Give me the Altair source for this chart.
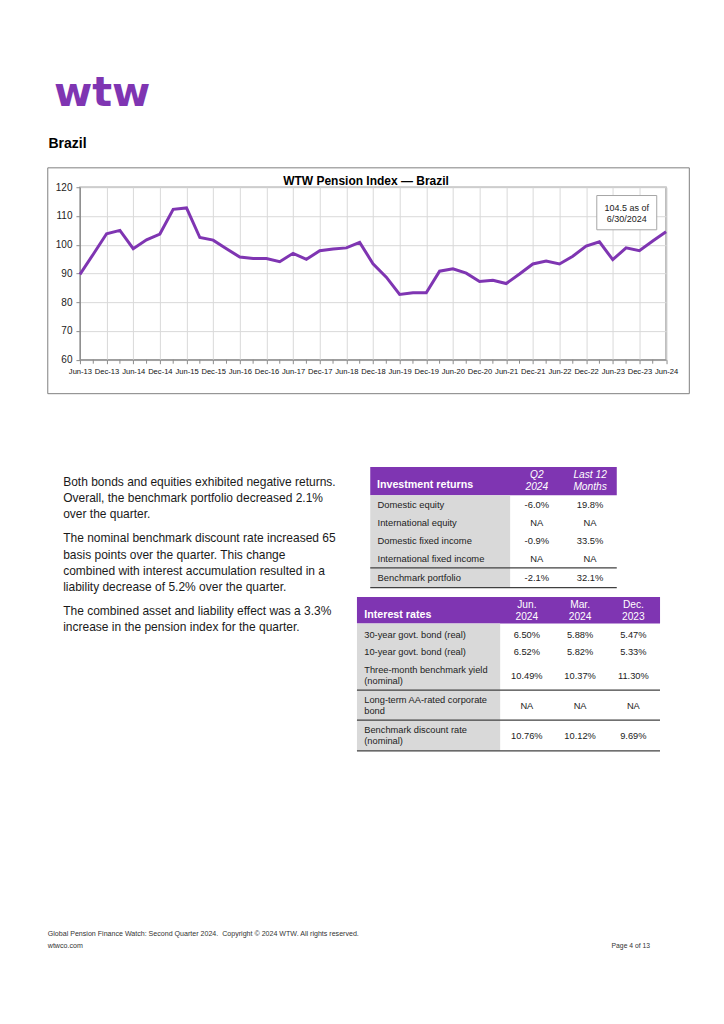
import json
import altair as alt
import pandas as pd

# ---------------- data ----------------
tick_labels = ["Jun-13", "Dec-13", "Jun-14", "Dec-14", "Jun-15", "Dec-15", "Jun-16",
               "Dec-16", "Jun-17", "Dec-17", "Jun-18", "Dec-18", "Jun-19", "Dec-19",
               "Jun-20", "Dec-20", "Jun-21", "Dec-21", "Jun-22", "Dec-22", "Jun-23",
               "Dec-23", "Jun-24"]
index_values = [89.7, 96.7, 103.8, 105.0, 98.6, 101.7, 103.7, 112.3, 112.8, 102.5,
                101.6, 98.6, 95.7, 95.2, 95.2, 94.1, 97.0, 94.9, 97.9, 98.5,
                98.9, 100.8, 93.4, 88.7, 82.7, 83.3, 83.3, 90.8, 91.6, 90.1,
                87.2, 87.6, 86.5, 89.8, 93.3, 94.3, 93.3, 96.0, 99.5, 101.0,
                94.8, 98.9, 97.9, 101.3, 104.5]
y_ticks = [60, 70, 80, 90, 100, 110, 120]

logo_text = "wtw"
section_title = "Brazil"
chart_title = "WTW Pension Index \u2014 Brazil"
note_lines = ["104.5 as of", "6/30/2024"]

paragraphs = [
    ["Both bonds and equities exhibited negative returns.",
     "Overall, the benchmark portfolio decreased 2.1%",
     "over the quarter."],
    ["The nominal benchmark discount rate increased 65",
     "basis points over the quarter. This change",
     "combined with interest accumulation resulted in a",
     "liability decrease of 5.2% over the quarter."],
    ["The combined asset and liability effect was a 3.3%",
     "increase in the pension index for the quarter."],
]

inv_title = "Investment returns"
inv_cols = [["Q2", "2024"], ["Last 12", "Months"]]
inv_rows = ["Domestic equity", "International equity", "Domestic fixed income",
            "International fixed income", "Benchmark portfolio"]
inv_q2 = ["-6.0%", "NA", "-0.9%", "NA", "-2.1%"]
inv_12m = ["19.8%", "NA", "33.5%", "NA", "32.1%"]

ir_title = "Interest rates"
ir_cols = [["Jun.", "2024"], ["Mar.", "2024"], ["Dec.", "2023"]]
ir_rows = [["30-year govt. bond (real)"], ["10-year govt. bond (real)"],
           ["Three-month benchmark yield", "(nominal)"],
           ["Long-term AA-rated corporate", "bond"],
           ["Benchmark discount rate", "(nominal)"]]
ir_jun = ["6.50%", "6.52%", "10.49%", "NA", "10.76%"]
ir_mar = ["5.88%", "5.82%", "10.37%", "NA", "10.12%"]
ir_dec = ["5.47%", "5.33%", "11.30%", "NA", "9.69%"]

footer_left = ["Global Pension Finance Watch: Second Quarter 2024.\u00a0 Copyright \u00a9 2024 WTW. All rights reserved.",
               "wtwco.com"]
footer_right = "Page 4 of 13"

# ---------------- layout ----------------
PURPLE = "#7f35b2"
GRAYCOL = "#d9d9d9"
TXT = "#222222"
FONT = "Liberation Sans, Arial, Helvetica, sans-serif"

OX, OY = 79.5, 186.7      # page position of the plot area origin
W, H = 586.5, 172.6       # plot area size


def xy(rows):
    return pd.DataFrame([{"x": x - OX, "y": y - OY, "t": t} for x, y, t in rows])


def text_layer(rows, **kw):
    base = dict(font=FONT, baseline="middle", color=TXT)
    base.update(kw)
    return alt.Chart(xy(rows)).mark_text(**base).encode(
        x=alt.X("x:Q", scale=None, axis=None),
        y=alt.Y("y:Q", scale=None, axis=None),
        text="t:N")


def rect_layer(rows, **kw):
    df = pd.DataFrame([{"x": a - OX, "x2": b - OX, "y": c - OY, "y2": d - OY}
                       for a, b, c, d in rows])
    return alt.Chart(df).mark_rect(**kw).encode(
        x=alt.X("x:Q", scale=None, axis=None), x2="x2:Q",
        y=alt.Y("y:Q", scale=None, axis=None), y2="y2:Q")


def hrule_layer(rows, **kw):
    df = pd.DataFrame([{"x": a - OX, "x2": b - OX, "y": c - OY} for a, b, c in rows])
    return alt.Chart(df).mark_rule(**kw).encode(
        x=alt.X("x:Q", scale=None, axis=None), x2="x2:Q",
        y=alt.Y("y:Q", scale=None, axis=None))


layers = []

# invisible page frame (fixes the page origin)
layers.append(rect_layer([(8, 716, 8, 1016)], opacity=0))

# chart outer box and annotation box
layers.append(rect_layer([(47.3, 689.3, 167.3, 393.3)], filled=False,
                         stroke="#7f7f7f", strokeWidth=1))
layers.append(rect_layer([(596.7, 656.7, 195, 229.3)], fill="white",
                         stroke="#a6a6a6", strokeWidth=1))

# the line chart
df_line = pd.DataFrame({"i": list(range(len(index_values))), "v": index_values})
label_expr = json.dumps(tick_labels) + "[round(datum.value / 2)]"
x_scale = alt.Scale(domain=[0, len(index_values) - 1], nice=False, zero=False)
x_axis = alt.Axis(values=list(range(0, len(index_values), 2)), labelExpr=label_expr,
                  title=None, grid=True, gridColor="#d9d9d9", domainColor="#8c8c8c",
                  tickColor="#8c8c8c", tickSize=4, labelFont=FONT,
                  labelFontSize=7.6, labelColor="#111111", labelPadding=4, labelOverlap=False,
                  labelFlush=False, labelAngle=0, orient="bottom")
y_axis = alt.Axis(values=y_ticks, title=None, grid=True, gridColor="#d9d9d9",
                  domainColor="#8c8c8c", tickColor="#8c8c8c", tickSize=4,
                  labelFont=FONT, labelFontSize=10, labelColor=TXT, labelPadding=4,
                  orient="left")
line = alt.Chart(df_line).mark_line(color=PURPLE, strokeWidth=3).encode(
    x=alt.X("i:Q", scale=x_scale, axis=x_axis),
    y=alt.Y("v:Q", scale=alt.Scale(domain=[y_ticks[0], y_ticks[-1]], nice=False, zero=False),
            axis=y_axis))
minor = alt.Chart(pd.DataFrame({"i": list(range(1, len(index_values), 2))})).mark_rule(
    color="#8c8c8c").encode(x=alt.X("i:Q", scale=x_scale, axis=x_axis),
                            y=alt.value(H), y2=alt.value(H + 4))
layers += [line, minor]

# chart texts
layers.append(text_layer([(365.8, 180.7, chart_title)], fontSize=12, fontWeight="bold",
                         color="#000000", align="center"))
layers.append(text_layer([(626.7, 207.0, note_lines[0]), (626.7, 218.5, note_lines[1])],
                         fontSize=9, align="center"))

# logo and heading
layers.append(text_layer([(53.5, 105, logo_text)], font="DejaVu Sans", fontSize=41.5,
                         fontWeight="bold", color=PURPLE, baseline="alphabetic", align="left"))
layers.append(text_layer([(48, 147.3, section_title)], fontSize=14, fontWeight="bold",
                         color="#000000", baseline="alphabetic", align="left"))

# paragraphs
para_rows = []
y = 481.5
for p in paragraphs:
    for ln in p:
        para_rows.append((62.7, y, ln))
        y += 16.2
    y += 8.0
layers.append(text_layer(para_rows, fontSize=12, color="#1a1a1a", align="left"))

# investment returns table
layers.append(rect_layer([(370, 616.7, 466.7, 495)], fill=PURPLE))
layers.append(rect_layer([(370, 510, 495, 587.3)], fill=GRAYCOL))
layers.append(text_layer([(376.7, 485, inv_title)], fontSize=10.7, fontWeight="bold",
                         color="white", align="left"))
inv_cx = [536.7, 590.0]
layers.append(text_layer([(cx, yy, s) for cx, col in zip(inv_cx, inv_cols)
                          for yy, s in zip([475, 486.7], col)],
                         fontSize=10.2, fontStyle="italic", color="white", align="center"))
inv_y = [505, 522.7, 540.7, 558.7, 577.7]
layers.append(text_layer([(377.3, yy, s) for yy, s in zip(inv_y, inv_rows)],
                         fontSize=9.4, align="left"))
layers.append(text_layer([(inv_cx[0], yy, s) for yy, s in zip(inv_y, inv_q2)] +
                         [(inv_cx[1], yy, s) for yy, s in zip(inv_y, inv_12m)],
                         fontSize=9.4, align="center"))
layers.append(hrule_layer([(370, 616.7, 567.7), (370, 616.7, 587.3)],
                          color="#404040", strokeWidth=1.2))

# interest rates table
layers.append(rect_layer([(356.7, 660, 596.7, 623.3)], fill=PURPLE))
layers.append(rect_layer([(356.7, 500, 623.3, 750.7)], fill=GRAYCOL))
layers.append(text_layer([(364, 615, ir_title)], fontSize=10.7, fontWeight="bold",
                         color="white", align="left"))
ir_cx = [526.7, 580.0, 633.3]
layers.append(text_layer([(cx, yy, s) for cx, col in zip(ir_cx, ir_cols)
                          for yy, s in zip([605, 616.7], col)],
                         fontSize=10.2, color="white", align="center"))
ir_label_y = [[634.3], [652.3], [670, 680.7], [700, 710.7], [730, 740.7]]
ir_val_y = [634.3, 652.3, 675.7, 706, 735.7]
layers.append(text_layer([(364, yy, s) for ys, labs in zip(ir_label_y, ir_rows)
                          for yy, s in zip(ys, labs)], fontSize=9.3, align="left"))
layers.append(text_layer([(cx, yy, s) for cx, col in zip(ir_cx, [ir_jun, ir_mar, ir_dec])
                          for yy, s in zip(ir_val_y, col)], fontSize=9.3, align="center"))
layers.append(hrule_layer([(356.7, 660, 690), (356.7, 660, 720), (356.7, 660, 750.7)],
                          color="#404040", strokeWidth=1.2))

# footer
layers.append(text_layer([(47.3, 934, footer_left[0]), (47.3, 946, footer_left[1])],
                         fontSize=7.1, color="#333333", align="left"))
layers.append(text_layer([(650, 946, footer_right)], fontSize=6.8, color="#333333",
                         align="right"))

chart = alt.layer(*layers).properties(width=W, height=H, padding=0).configure_view(
    stroke="#a6a6a6", strokeWidth=1.5)

chart.save("out.html", embed_options={"renderer": "svg", "actions": False})
